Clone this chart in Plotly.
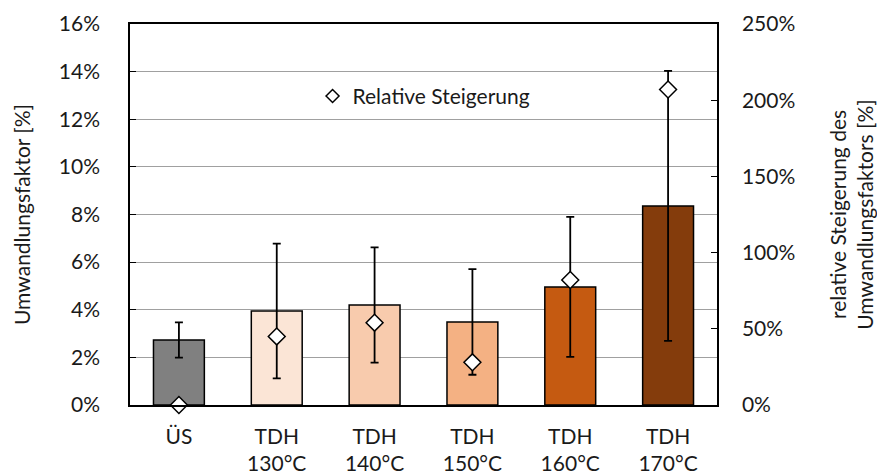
import plotly.graph_objects as go

categories = ["ÜS", "TDH<br>130°C", "TDH<br>140°C", "TDH<br>150°C", "TDH<br>160°C", "TDH<br>170°C"]
umwandlung = [2.73, 3.95, 4.20, 3.49, 4.96, 8.36]       # %
umwandlung_err = [0.74, 2.83, 2.42, 2.22, 2.94, 5.67]   # %
rel_steigerung = [0, 45, 54, 28, 82, 207]               # %
bar_colors = ["#808080", "#FBE5D6", "#F8CBAD", "#F4B183", "#C55A11", "#843C0C"]

FONT = "Lato"
FS = 21
TXT = "#1a1a1a"

fig = go.Figure()
fig.add_trace(go.Bar(
    x=categories, y=umwandlung,
    marker=dict(color=bar_colors, line=dict(color="black", width=1.5)),
    width=0.52,
    error_y=dict(type="data", array=umwandlung_err, visible=True,
                 color="black", thickness=1.8, width=4),
    showlegend=False,
))
fig.add_trace(go.Scatter(
    x=categories, y=rel_steigerung, yaxis="y2", mode="markers",
    name="Relative Steigerung", legendgroup="rel", showlegend=False,
    marker=dict(symbol="diamond", size=13, color="white",
                line=dict(color="black", width=1.5)),
    cliponaxis=False,
))
# legend entry (smaller symbol, like the reference legend)
fig.add_trace(go.Scatter(
    x=[None], y=[None], yaxis="y2", mode="markers",
    name="Relative Steigerung", legendgroup="rel",
    marker=dict(symbol="diamond", size=10, color="white",
                line=dict(color="black", width=1.5)),
))

fig.update_layout(
    width=877, height=476,
    margin=dict(l=130, r=160, t=24, b=71),
    paper_bgcolor="white", plot_bgcolor="white",
    font=dict(family=FONT, size=FS, color=TXT),
    bargap=0.48,
    xaxis=dict(
        showline=True, linecolor="black", linewidth=1.5, mirror=True,
        ticks="", tickfont=dict(size=FS), ticklabelstandoff=12,
        automargin=False,
    ),
    yaxis=dict(
        range=[0, 16], dtick=2, ticksuffix="%",
        showline=True, linecolor="black", linewidth=1.5,
        ticks="inside", ticklen=6, tickcolor="black", tickwidth=1.2,
        showgrid=True, gridcolor="#A0A0A0", gridwidth=1.2,
        zeroline=False, ticklabelstandoff=24, automargin=False,
        title=dict(text="Umwandlungsfaktor [%]", standoff=22, font=dict(size=FS)),
    ),
    yaxis2=dict(
        range=[0, 250], dtick=50, ticksuffix="%",
        overlaying="y", side="right",
        showline=True, linecolor="black", linewidth=1.5,
        ticks="inside", ticklen=6, tickcolor="black", tickwidth=1.2,
        showgrid=False, zeroline=False, ticklabelstandoff=19, automargin=False,
        title=dict(text="relative Steigerung des<br>Umwandlungsfaktors [%]",
                   standoff=48, font=dict(size=FS)),
    ),
    legend=dict(x=0.311, y=0.81, xanchor="left", yanchor="middle",
                bgcolor="rgba(0,0,0,0)", font=dict(size=FS),
                itemwidth=30),
)

fig.write_html("out.html")
